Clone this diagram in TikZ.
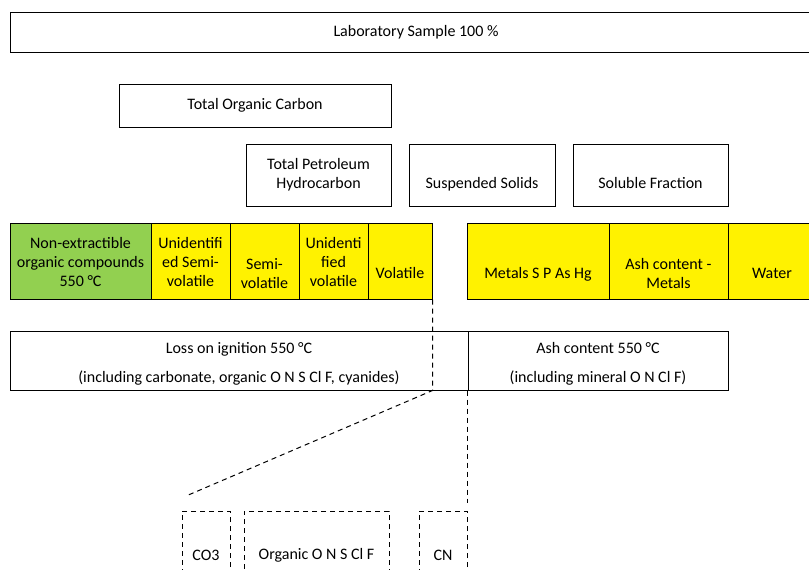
\documentclass[tikz,border=0pt]{standalone}
\usepackage{fontspec}
\setmainfont{Carlito}
\usetikzlibrary{positioning}
\definecolor{leafgreen}{RGB}{146,208,80}
% Text im Kasten nach unten versetzen
\newcommand{\celltext}[2]{\raisebox{#1}[0pt][0pt]{\begin{tabular}{@{}c@{}}#2\end{tabular}}}

\begin{document}
\begin{tikzpicture}[
    x=1pt, y=-1pt,
    font=\fontsize{16}{19}\selectfont,
    box/.style={rectangle, draw=black, line width=1pt, align=center,
                inner sep=2pt, fill=white},
    fraction/.style={box, fill=yellow, minimum height=76pt},
    organic/.style={fraction, fill=leafgreen},
    part/.style={rectangle, draw=black, line width=1pt, dash pattern=on 5pt off 4pt,
                 minimum height=89pt, inner sep=0pt},
    cut/.style={line width=1pt, dash pattern=on 5pt off 4pt},
]
\useasboundingbox (0,0) rectangle (809,570);

% Probe
\node[box, minimum width=812pt, minimum height=40pt] (sample) at (416,32) {Laboratory Sample 100 \%};

% Summenparameter
\node[box, minimum width=272pt, minimum height=43pt] (toc) at (255,105.5) {Total Organic Carbon};
\node[box, minimum width=145pt, minimum height=62pt] (tph) at (318.5,175) {Total Petroleum\\Hydrocarbon};
\node[box, minimum width=146pt, minimum height=62pt] (ss) at (482,175) {\celltext{-14pt}{Suspended Solids}};
\node[box, minimum width=155pt, minimum height=62pt] (sol) at (650.5,175) {\celltext{-14pt}{Soluble Fraction}};

% Fraktionen
\node[organic, minimum width=141pt] (nonext) at (80.5,261) {\celltext{-7.5pt}{Non-extractible\\organic compounds\\550 °C}};
\node[fraction, minimum width=79pt] (uisv) at (190.5,261) {\celltext{-7.5pt}{Unidentifi\\ed Semi-\\volatile}};
\node[fraction, minimum width=69pt] (sv) at (264.5,261) {\celltext{-18.5pt}{Semi-\\volatile}};
\node[fraction, minimum width=69pt] (uiv) at (333.5,261) {\celltext{-7.5pt}{Unidenti\\fied\\volatile}};
\node[fraction, minimum width=64pt] (vol) at (400,261) {\celltext{-18pt}{Volatile}};
\node[fraction, minimum width=142pt] (met) at (538,261) {\celltext{-18pt}{Metals S P As Hg}};
\node[fraction, minimum width=119pt] (ashm) at (668.5,261) {\celltext{-18.5pt}{Ash content -\\Metals}};
\node[fraction, minimum width=88pt] (water) at (772,261) {\celltext{-18pt}{Water}};

% Gluehverlust / Asche
\node[box, minimum width=458pt, minimum height=59pt] (loi) at (239,360.5)
    {\celltext{-8.5pt}{Loss on ignition 550 °C\\[10pt](including carbonate, organic O N S Cl F, cyanides)}};
\node[box, minimum width=260pt, minimum height=59pt] (ash) at (598,360.5)
    {\celltext{-8.5pt}{Ash content 550 °C\\[10pt](including mineral O N Cl F)}};

% Aufteilung
\node[part, minimum width=48pt] (co3) at (206,555.5) {CO3};
\node[part, minimum width=145pt] (org) at (316.5,555.5) {Organic O N S Cl F};
\node[part, minimum width=48pt] (cn) at (443,555.5) {CN};

\coordinate (split) at (vol.south east |- loi.south);
\coordinate (open) at (186,496);
\coordinate (cnend) at (ash.south west |- 0,503);

\draw[cut] (vol.south east) -- (split) -- (open);
\draw[cut] (ash.south west) -- (cnend);

\end{tikzpicture}
\end{document}
